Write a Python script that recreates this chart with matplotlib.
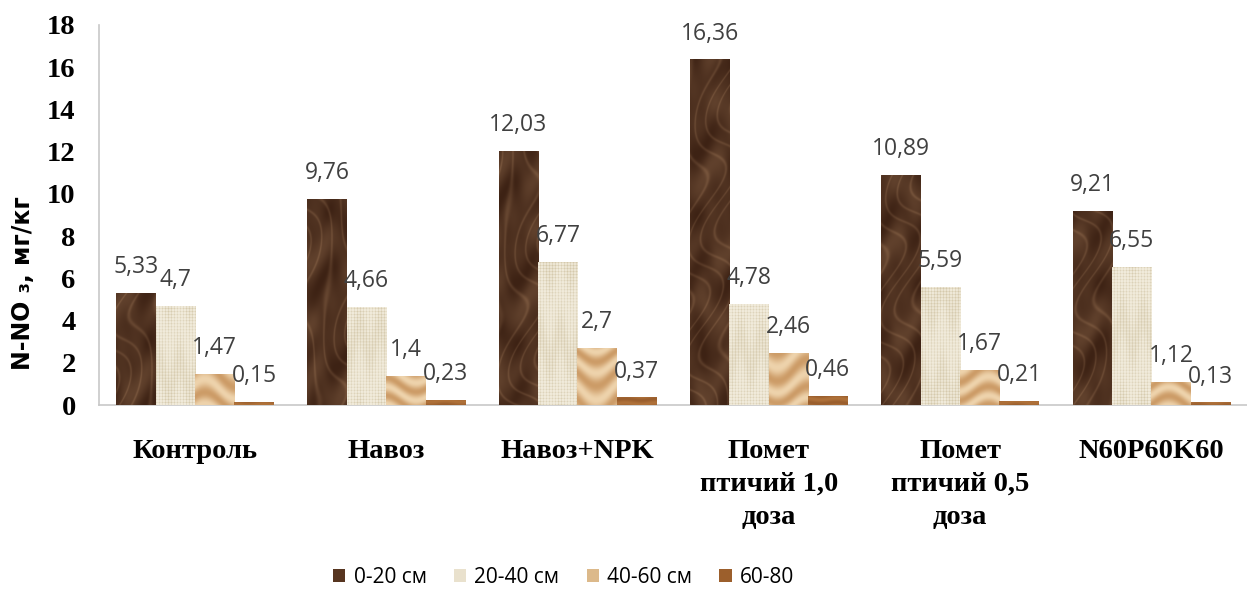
import numpy as np
import matplotlib.pyplot as plt
from matplotlib.patches import Patch

categories = ["Контроль", "Навоз", "Навоз+NPK", "Помет\nптичий 1,0\nдоза",
              "Помет\nптичий 0,5\nдоза", "N60P60K60"]
layers = ["0-20 см", "20-40 см", "40-60 см", "60-80"]
depth_0_20 = [5.33, 9.76, 12.03, 16.36, 10.89, 9.21]
depth_20_40 = [4.7, 4.66, 6.77, 4.78, 5.59, 6.55]
depth_40_60 = [1.47, 1.4, 2.7, 2.46, 1.67, 1.12]
depth_60_80 = [0.15, 0.23, 0.37, 0.46, 0.21, 0.13]

series = [depth_0_20, depth_20_40, depth_40_60, depth_60_80]
kinds = ["marble", "linen", "sand", "wood"]
colors = ["#573520", "#e9e1cd", "#dcb98a", "#9c5f2c"]


def hex_rgb(h):
    return np.array([int(h[i:i + 2], 16) / 255 for i in (1, 3, 5)])


def blend(a, b, t):
    t = np.clip(t, 0, 1)[..., None]
    return hex_rgb(a) * (1 - t) + hex_rgb(b) * t


def texture(kind, rows, cols, seed):
    # procedural fills: marble, linen weave, sand ripples, wood
    y, x = np.mgrid[0:rows, 0:cols].astype(float)
    y = y + seed * 37.0
    x = x + seed * 11.0
    if kind == "marble":
        base = 0.5 + 0.25 * np.sin(x * 0.13 + 1.7 * np.sin(y * 0.06)) \
            + 0.25 * np.sin(y * 0.09 + 1.3 * np.sin(x * 0.17 + y * 0.02))
        v = np.sin(x * 0.2 + 2.5 * np.sin(y * 0.05) + 1.8 * np.sin((x + y) * 0.06))
        t = 0.55 * base + 0.35 * np.exp(-12 * v ** 2)
        return blend("#3d2214", "#7d5a40", t)
    if kind == "linen":
        t = 0.5 * ((x % 3) < 1) + 0.5 * ((y % 3) < 1)
        t += 0.2 * np.sin(y * 0.07 + np.sin(x * 0.3))
        return blend("#f1ebdb", "#d3c7a9", t * 0.8)
    if kind == "sand":
        t = 0.5 + 0.5 * np.sin(y * 0.3 + 2.5 * np.sin(x * 0.1) + 1.5 * np.sin(y * 0.05))
        return blend("#eed3ac", "#c99660", t * 0.9)
    t = 0.5 + 0.5 * np.sin(y * 0.9 + 0.6 * np.sin(x * 0.2))
    return blend("#b0723a", "#8a5024", t * 0.6)


def fmt(v):
    return f"{v:g}".replace(".", ",")


fig = plt.figure(figsize=(12.47, 5.89), dpi=100)
ax = fig.add_axes([0.0796, 0.312, 0.9204, 0.646])
ax.set_xlim(-0.5, len(categories) - 0.5)
ax.set_ylim(0, 18)

x = np.arange(len(categories))
width = 0.206
px_per_unit = 0.646 * 589 / 18
for i, vals in enumerate(series):
    pos = x + (i - 1.5) * width
    bars = ax.bar(pos, vals, width, color=colors[i], linewidth=0, zorder=2)
    for j, (b, v) in enumerate(zip(bars, vals)):
        rows = max(int(v * px_per_unit), 2)
        img = ax.imshow(texture(kinds[i], rows, 40, i * 6 + j),
                        extent=[b.get_x(), b.get_x() + width, 0, v],
                        aspect="auto", interpolation="bilinear", zorder=3)
        img.set_clip_path(b)
        ax.annotate(fmt(v), (b.get_x() + width / 2, v),
                    xytext=(0, 10), textcoords="offset points",
                    ha="center", va="bottom", fontsize=16.5,
                    family="Open Sans", color="#404040", zorder=4)

ax.set_xlim(-0.5, len(categories) - 0.5)
ax.set_ylim(0, 18)
ax.set_yticks(range(0, 19, 2))
ax.set_xticks(x)
ax.set_xticklabels(categories, family="Liberation Serif", fontweight="bold",
                   fontsize=20.5, linespacing=1.42)
for lab in ax.get_yticklabels():
    lab.set_family("Liberation Serif")
    lab.set_fontweight("bold")
    lab.set_fontsize(20.5)
ax.tick_params(axis="y", length=0, pad=17)
ax.tick_params(axis="x", length=0, pad=24)

for side in ["top", "right"]:
    ax.spines[side].set_visible(False)
for side in ["left", "bottom"]:
    ax.spines[side].set_color("#c8c8c8")
    ax.spines[side].set_linewidth(1.2)

ax.set_ylabel("N-NO ₃, мг/кг", family="DejaVu Sans", fontweight="bold",
              fontsize=17)
ax.yaxis.set_label_coords(-0.056, 0.32)

handles = [Patch(facecolor=c, linewidth=0) for c in colors]
fig.legend(handles, layers, loc="center", bbox_to_anchor=(0.452, 0.02),
           ncol=4, frameon=False, handlelength=0.6,
           handleheight=0.6, handletextpad=0.4, columnspacing=1.3,
           prop={"family": "Open Sans", "size": 15})

fig.savefig("out.png", dpi=100)
